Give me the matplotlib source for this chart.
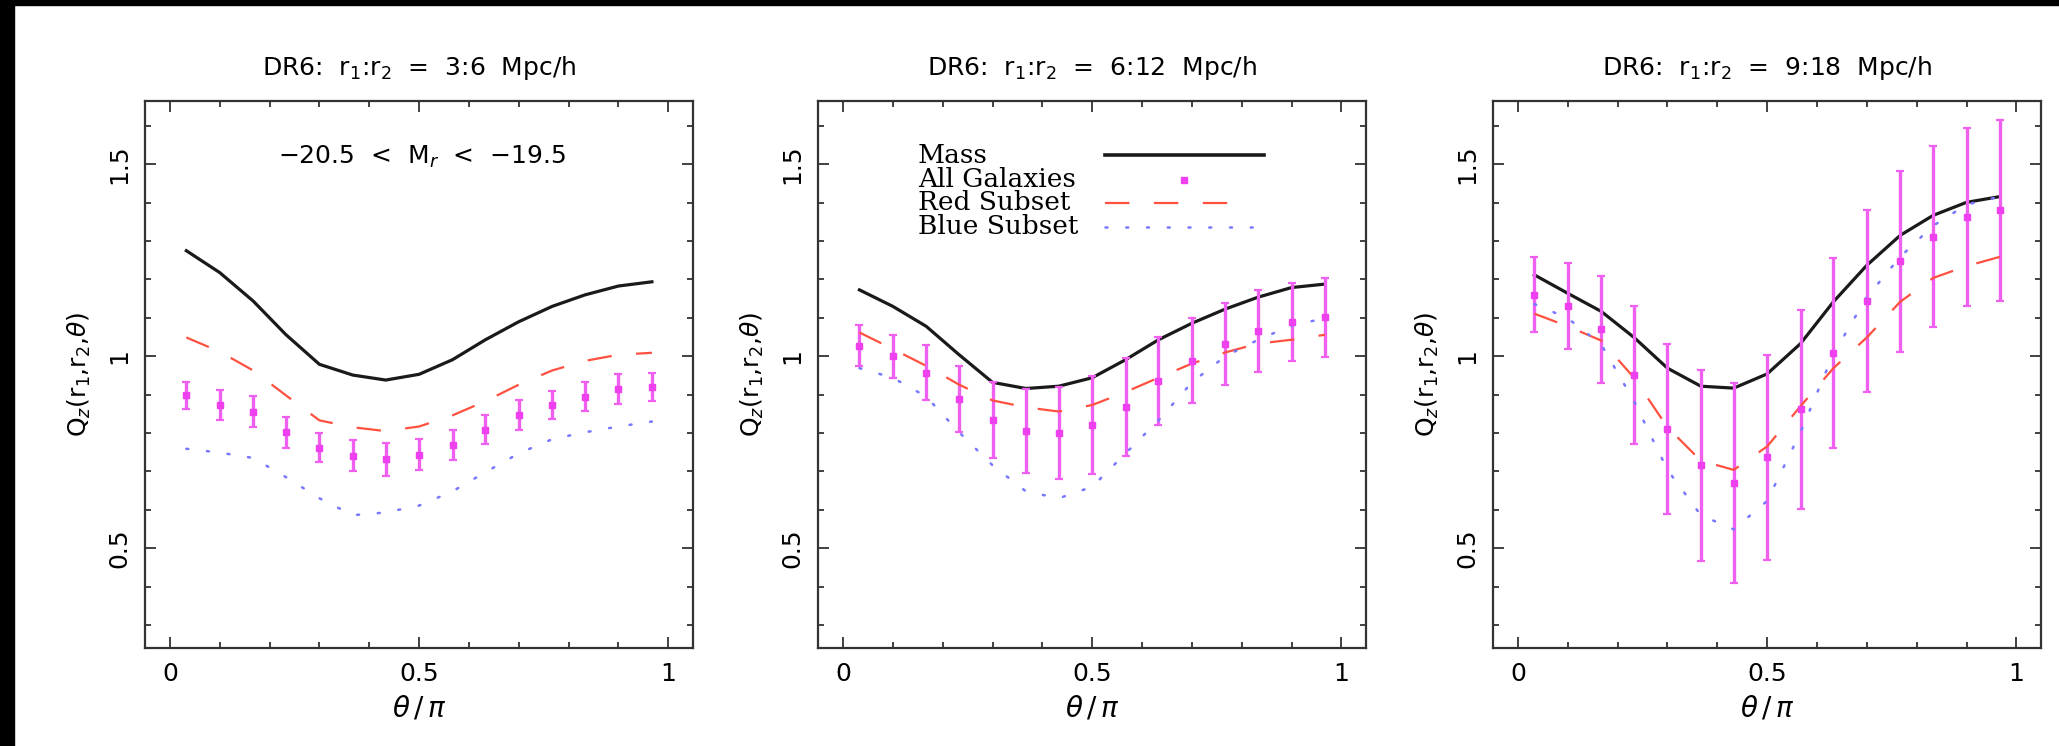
import matplotlib
matplotlib.use("Agg")
import matplotlib.pyplot as plt
from matplotlib.patches import Rectangle
from matplotlib.ticker import MultipleLocator, FixedLocator

plt.rcParams["font.family"] = ["DejaVu Sans"]
plt.rcParams["mathtext.fontset"] = "dejavusans"

# bin centres in theta/pi
theta = [0.033, 0.1, 0.167, 0.233, 0.3, 0.367, 0.433, 0.5,
         0.567, 0.633, 0.7, 0.767, 0.833, 0.9, 0.967]

titles = ["DR6:  r$_1$:r$_2$  =  3:6  Mpc/h",
          "DR6:  r$_1$:r$_2$  =  6:12  Mpc/h",
          "DR6:  r$_1$:r$_2$  =  9:18  Mpc/h"]

# 3:6 Mpc/h
mass1 = [1.275, 1.218, 1.144, 1.056, 0.979, 0.951, 0.938, 0.953, 0.991, 1.043, 1.09, 1.13, 1.16, 1.183, 1.194]
red1 = [1.049, 1.012, 0.963, 0.898, 0.833, 0.815, 0.805, 0.817, 0.846, 0.883, 0.926, 0.963, 0.988, 1.004, 1.009]
gal1 = [0.898, 0.873, 0.856, 0.802, 0.762, 0.741, 0.732, 0.744, 0.769, 0.809, 0.846, 0.873, 0.895, 0.914, 0.920]
err1 = [0.036, 0.039, 0.041, 0.04, 0.038, 0.04, 0.043, 0.041, 0.039, 0.038, 0.039, 0.037, 0.038, 0.039, 0.037]
blue1 = [0.759, 0.749, 0.735, 0.685, 0.630, 0.586, 0.593, 0.611, 0.648, 0.698, 0.747, 0.784, 0.802, 0.817, 0.830]

# 6:12 Mpc/h
mass2 = [1.173, 1.13, 1.078, 1.004, 0.932, 0.916, 0.922, 0.944, 0.991, 1.043, 1.086, 1.123, 1.154, 1.179, 1.188]
red2 = [1.062, 1.019, 0.975, 0.926, 0.885, 0.867, 0.856, 0.873, 0.907, 0.944, 0.981, 1.01, 1.033, 1.043, 1.056]
gal2 = [1.028, 1.0, 0.957, 0.889, 0.833, 0.805, 0.799, 0.821, 0.868, 0.935, 0.988, 1.033, 1.065, 1.09, 1.101]
err2 = [0.054, 0.056, 0.072, 0.086, 0.099, 0.109, 0.12, 0.128, 0.127, 0.114, 0.111, 0.107, 0.107, 0.102, 0.102]
blue2 = [0.969, 0.944, 0.895, 0.802, 0.716, 0.648, 0.630, 0.660, 0.747, 0.833, 0.932, 1.0, 1.043, 1.08, 1.099]

# 9:18 Mpc/h
mass3 = [1.212, 1.164, 1.117, 1.049, 0.969, 0.922, 0.917, 0.954, 1.033, 1.142, 1.237, 1.315, 1.367, 1.401, 1.416]
red3 = [1.111, 1.078, 1.041, 0.944, 0.815, 0.728, 0.704, 0.765, 0.870, 0.969, 1.049, 1.142, 1.204, 1.235, 1.259]
gal3 = [1.160, 1.130, 1.070, 0.951, 0.811, 0.716, 0.670, 0.737, 0.862, 1.009, 1.144, 1.247, 1.312, 1.362, 1.380]
err3 = [0.098, 0.112, 0.14, 0.179, 0.222, 0.249, 0.26, 0.267, 0.259, 0.247, 0.238, 0.236, 0.235, 0.232, 0.236]
blue3 = [1.136, 1.099, 1.031, 0.883, 0.704, 0.586, 0.549, 0.623, 0.802, 1.006, 1.154, 1.259, 1.340, 1.395, 1.416]

legend_labels = ["Mass", "All Galaxies", "Red Subset", "Blue Subset"]

MASS_C = "#1a1a1a"
RED_C = "#ff5040"
BLUE_C = "#7878ff"
GAL_C = "#ee40ee"
GAL_E = "#f060f0"


def style_axes(ax):
    ax.set_xlim(-0.05, 1.05)
    ax.set_ylim(0.24, 1.665)
    ax.xaxis.set_major_locator(FixedLocator([0, 0.5, 1]))
    ax.xaxis.set_minor_locator(MultipleLocator(0.1))
    ax.yaxis.set_major_locator(FixedLocator([0.5, 1, 1.5]))
    ax.yaxis.set_minor_locator(MultipleLocator(0.1))
    ax.set_xticklabels(["0", "0.5", "1"])
    ax.set_yticklabels(["0.5", "1", "1.5"], rotation=90, va="center")
    ax.tick_params(which="both", direction="in", top=True, right=True,
                   color="#333333", width=1.3)
    ax.tick_params(which="major", length=8, labelsize=18, pad=10)
    ax.tick_params(which="minor", length=4.5)
    for s in ax.spines.values():
        s.set_linewidth(1.6)
        s.set_color("#333333")
    ax.set_xlabel(r"$\theta\,/\,\pi$", fontsize=20, labelpad=6)
    ax.set_ylabel(r"Q$_z$(r$_1$,r$_2$,$\theta$)", fontsize=18, labelpad=10)


def draw_panel(ax, title, mass, red, gal, err, blue):
    ax.plot(theta, mass, color=MASS_C, lw=2.3, solid_joinstyle="round")
    ax.errorbar(theta, gal, yerr=err, fmt="s", color=GAL_C, ecolor=GAL_E,
                markersize=5, elinewidth=2.4, capsize=3, capthick=1.6)
    ax.plot(theta, red, color=RED_C, lw=1.6, dashes=(11, 11))
    ax.plot(theta, blue, color=BLUE_C, lw=1.8, linestyle=(0, (0.8, 7.5)),
            dash_capstyle="round")
    ax.set_title(title, fontsize=18, pad=19)
    style_axes(ax)


fig = plt.figure(figsize=(20.59, 7.46), dpi=100)
lefts = [0.0704, 0.3973, 0.7251]
axes = [fig.add_axes([l, 0.1314, 0.2663, 0.7332]) for l in lefts]

panels = [(mass1, red1, gal1, err1, blue1),
          (mass2, red2, gal2, err2, blue2),
          (mass3, red3, gal3, err3, blue3)]
for ax, title, p in zip(axes, titles, panels):
    draw_panel(ax, title, *p)

axes[0].text(0.505, 0.897, "$-$20.5  <  M$_r$  <  $-$19.5", transform=axes[0].transAxes,
             ha="center", va="center", fontsize=18)

# legend box in the middle panel: text on the left, line samples on the right
ax = axes[1]
rows_y = [0.901, 0.856, 0.814, 0.770]
for lab, yy in zip(legend_labels, rows_y):
    ax.text(0.182, yy, lab, transform=ax.transAxes, ha="left", va="center",
            fontsize=19, family="DejaVu Serif")
ax.plot([0.524, 0.813], [rows_y[0]] * 2, transform=ax.transAxes, color=MASS_C, lw=2.6)
ax.plot([0.667], [rows_y[1]], transform=ax.transAxes, marker="s", color=GAL_C, markersize=5)
ax.plot([0.524, 0.78], [rows_y[2]] * 2, transform=ax.transAxes, color=RED_C, lw=1.6, dashes=(11, 11))
ax.plot([0.524, 0.81], [rows_y[3]] * 2, transform=ax.transAxes, color=BLUE_C, lw=1.8,
        linestyle=(0, (0.8, 7.5)), dash_capstyle="round")

# black frame strips seen at the left and top of the original image
fig.add_artist(Rectangle((0, 0), 14 / 2059, 1, transform=fig.transFigure, color="black"))
fig.add_artist(Rectangle((0, 1 - 5 / 746), 1, 5 / 746, transform=fig.transFigure, color="black"))

fig.savefig("out.png", dpi=100, facecolor="white")
